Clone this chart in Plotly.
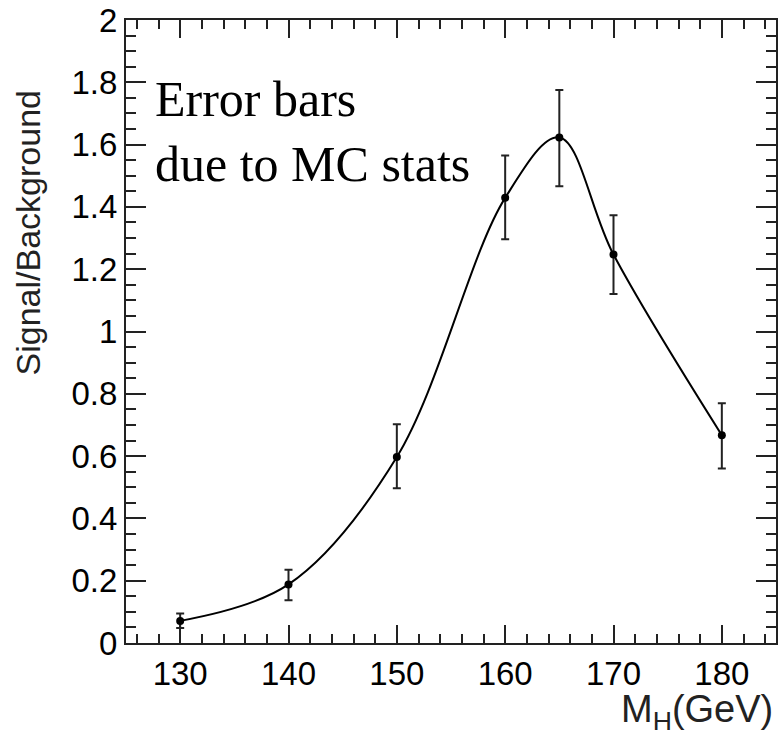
import plotly.graph_objects as go

mass = [130, 140, 150, 160, 165, 170, 180]
ratio = [0.071, 0.188, 0.597, 1.429, 1.623, 1.247, 0.667]
err_up = [0.024, 0.047, 0.105, 0.136, 0.152, 0.126, 0.103]
err_down = [0.023, 0.051, 0.100, 0.133, 0.157, 0.127, 0.107]

x_ticks = [130, 140, 150, 160, 170, 180]
y_ticks = [0, 0.2, 0.4, 0.6, 0.8, 1.0, 1.2, 1.4, 1.6, 1.8, 2.0]
y_tick_text = ["0", "0.2", "0.4", "0.6", "0.8", "1", "1.2", "1.4", "1.6", "1.8", "2"]

x_range = [125, 185]
y_range = [0, 2]

W, H = 780, 737
ML, MR, MT, MB = 126, 2, 17, 94
PW = W - ML - MR
PH = H - MT - MB

def px_x(p):
    return (p - ML) / PW

def px_y(p):
    return (H - MB - p) / PH

ink = "#222222"

fig = go.Figure()
fig.add_trace(go.Scatter(
    x=mass, y=ratio, mode="lines",
    line=dict(color="black", width=2, shape="spline", smoothing=1.0),
    hoverinfo="skip", showlegend=False,
))
fig.add_trace(go.Scatter(
    x=mass, y=ratio, mode="markers",
    marker=dict(color="black", size=8, symbol="circle"),
    error_y=dict(type="data", symmetric=False, array=err_up, arrayminus=err_down,
                 color=ink, thickness=2, width=4),
    showlegend=False,
))
# invisible trace to activate the minor-tick overlay axes
fig.add_trace(go.Scatter(
    x=[x_range[0]], y=[y_range[0]], mode="markers", marker=dict(opacity=0),
    xaxis="x2", yaxis="y2", hoverinfo="skip", showlegend=False,
))

tickfont = dict(family="Liberation Sans, Arial, sans-serif", size=33, color="black")

fig.update_layout(
    xaxis=dict(
        range=x_range, tickmode="array", tickvals=x_ticks,
        showgrid=False, zeroline=False, showline=True, linecolor=ink, linewidth=2,
        mirror="allticks", ticks="inside", ticklen=18, tickcolor=ink, tickwidth=2,
        tickfont=tickfont, ticklabeloverflow="allow",
    ),
    yaxis=dict(
        range=y_range, tickmode="array", tickvals=y_ticks, ticktext=y_tick_text,
        showgrid=False, zeroline=False, showline=True, linecolor=ink, linewidth=2,
        mirror="allticks", ticks="inside", ticklen=20, tickcolor=ink, tickwidth=2,
        tickfont=tickfont, ticklabeloverflow="allow",
    ),
    xaxis2=dict(
        range=x_range, overlaying="x", anchor="y", side="bottom",
        tick0=126, dtick=2, showticklabels=False,
        showgrid=False, zeroline=False, showline=False,
        mirror="allticks", ticks="inside", ticklen=9, tickcolor=ink, tickwidth=2,
    ),
    yaxis2=dict(
        range=y_range, overlaying="y", anchor="x", side="left",
        tick0=0, dtick=0.05, showticklabels=False,
        showgrid=False, zeroline=False, showline=False,
        mirror="allticks", ticks="inside", ticklen=10, tickcolor=ink, tickwidth=2,
    ),
)

fig.add_annotation(
    text="Signal/Background", textangle=-90, showarrow=False,
    xref="paper", yref="paper", x=px_x(28), y=px_y(86),
    xanchor="center", yanchor="top",
    font=dict(family="Liberation Sans, Arial, sans-serif", size=34, color="#222222"),
)
fig.add_annotation(
    text="M<sub>H</sub>(GeV)", showarrow=False,
    xref="paper", yref="paper", x=px_x(777), y=px_y(686),
    xanchor="right", yanchor="top",
    font=dict(family="Liberation Sans, Arial, sans-serif", size=38, color="#222222"),
)
fig.add_annotation(
    text="Error bars<br>due to MC stats", showarrow=False, align="left",
    xref="paper", yref="paper", x=px_x(153), y=px_y(66),
    xanchor="left", yanchor="top",
    font=dict(family="Liberation Serif, Times New Roman, serif", size=50, color="black"),
)

fig.update_layout(
    width=W, height=H,
    margin=dict(l=ML, r=MR, t=MT, b=MB),
    paper_bgcolor="white", plot_bgcolor="white",
)

fig.write_html("out.html")
